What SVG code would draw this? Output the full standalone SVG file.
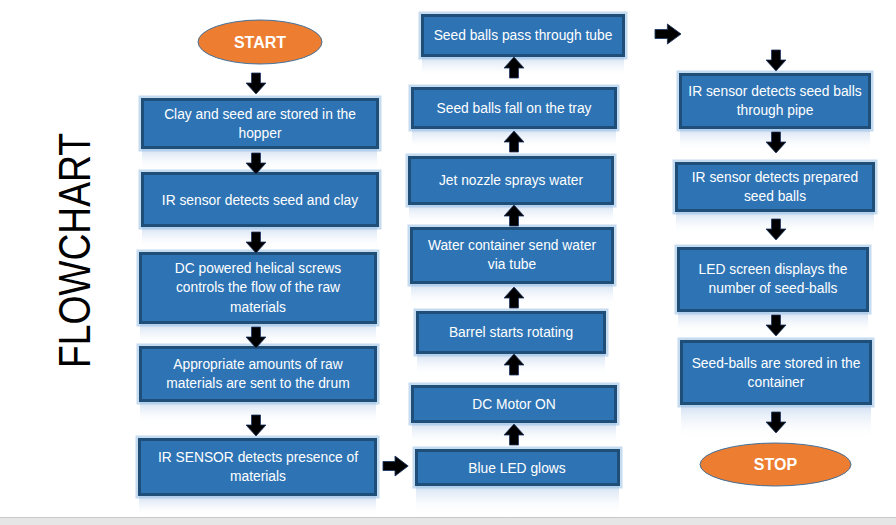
<svg xmlns="http://www.w3.org/2000/svg" xmlns:xlink="http://www.w3.org/1999/xlink" width="896" height="525" viewBox="0 0 896 525">
<style>
.box{fill:#2E74B5;stroke:#1F4E79;stroke-width:3}
.glow{fill:none;stroke:#9DC3E6;stroke-width:6;opacity:0.6}
.refl{fill:url(#rg)}
.t{font-family:"Liberation Sans",Arial,sans-serif;font-size:13.8px;fill:#ffffff;text-anchor:middle}
.term{fill:#ED7D31;stroke:#41719C;stroke-width:1}
.tt{font-family:"Liberation Sans",Arial,sans-serif;font-size:16px;font-weight:bold;fill:#ffffff;text-anchor:middle}
.arr{fill:#000000;stroke:#1F3864;stroke-width:0.8}
</style>
<defs>
<linearGradient id="rg" x1="0" y1="0" x2="0" y2="1">
<stop offset="0" stop-color="#BDD2EC" stop-opacity="0.7"/>
<stop offset="1" stop-color="#ffffff" stop-opacity="0"/>
</linearGradient>
<path id="ad" d="M-4.5,0 L4.5,0 L4.5,10 L10,10 L0,21 L-10,10 L-4.5,10 Z"/>
</defs>
<rect x="0" y="0" width="896" height="525" fill="#ffffff"/>
<rect x="0" y="517" width="896" height="8" fill="#E6E6E6"/>
<line x1="0" y1="517.5" x2="896" y2="517.5" stroke="#C8C8C8" stroke-width="1"/>

<g id="title"><text transform="translate(90,250.5) rotate(-90)" text-anchor="middle" font-family="Liberation Sans,Arial,sans-serif" font-size="44" textLength="235" lengthAdjust="spacingAndGlyphs" fill="#000000">FLOWCHART</text></g>

<g id="start"><ellipse class="term" cx="260" cy="42" rx="62" ry="22"/><text class="tt" x="260" y="48">START</text></g>

<g id="n1"><rect class="refl" x="142" y="149" width="235" height="22"/><rect class="glow" x="141.5" y="98.5" width="237" height="50"/><rect class="box" x="142.5" y="99.5" width="235" height="48"/><text class="t" x="260" y="119">Clay and seed are stored in the</text><text class="t" x="260" y="138">hopper</text></g>
<g id="n2"><rect class="refl" x="142" y="227" width="235" height="22"/><rect class="glow" x="141.5" y="172.5" width="237" height="54"/><rect class="box" x="142.5" y="173.5" width="235" height="52"/><text class="t" x="260" y="205">IR sensor detects seed and clay</text></g>
<g id="n3"><rect class="refl" x="140" y="324" width="236" height="22"/><rect class="glow" x="139.5" y="252.5" width="237" height="71"/><rect class="box" x="140.5" y="253.5" width="235" height="69"/><text class="t" x="258" y="273">DC powered helical screws</text><text class="t" x="258" y="292">controls the flow of the raw</text><text class="t" x="258" y="312">materials</text></g>
<g id="n4"><rect class="refl" x="140" y="402" width="236" height="22"/><rect class="glow" x="139.5" y="346.5" width="237" height="55"/><rect class="box" x="140.5" y="347.5" width="235" height="53"/><text class="t" x="258" y="369">Appropriate amounts of raw</text><text class="t" x="258" y="388">materials are sent to the drum</text></g>
<g id="n5"><rect class="refl" x="139" y="496" width="237" height="20"/><rect class="glow" x="138.5" y="438.5" width="238" height="57"/><rect class="box" x="139.5" y="439.5" width="236" height="55"/><text class="t" x="258" y="462">IR SENSOR detects presence of</text><text class="t" x="258" y="481">materials</text></g>

<g id="n6"><rect class="refl" x="422" y="57" width="202" height="20"/><rect class="glow" x="421.5" y="14.5" width="203" height="42"/><rect class="box" x="422.5" y="15.5" width="201" height="40"/><text class="t" x="523" y="40">Seed balls pass through tube</text></g>
<g id="n7"><rect class="refl" x="412" y="129" width="204" height="20"/><rect class="glow" x="411.5" y="87.5" width="205" height="41"/><rect class="box" x="412.5" y="88.5" width="203" height="39"/><text class="t" x="514" y="113">Seed balls fall on the tray</text></g>
<g id="n8"><rect class="refl" x="409" y="205" width="204" height="20"/><rect class="glow" x="408.5" y="156.5" width="205" height="48"/><rect class="box" x="409.5" y="157.5" width="203" height="46"/><text class="t" x="511" y="185">Jet nozzle sprays water</text></g>
<g id="n9"><rect class="refl" x="411" y="284" width="202" height="22"/><rect class="glow" x="410.5" y="227.5" width="203" height="56"/><rect class="box" x="411.5" y="228.5" width="201" height="54"/><text class="t" x="512" y="250">Water container send water</text><text class="t" x="512" y="269">via tube</text></g>
<g id="n10"><rect class="refl" x="417" y="354" width="188" height="22"/><rect class="glow" x="416.5" y="311.5" width="189" height="42"/><rect class="box" x="417.5" y="312.5" width="187" height="40"/><text class="t" x="511" y="337">Barrel starts rotating</text></g>
<g id="n11"><rect class="refl" x="412" y="423" width="204" height="22"/><rect class="glow" x="411.5" y="385.5" width="205" height="37"/><rect class="box" x="412.5" y="386.5" width="203" height="35"/><text class="t" x="514" y="409">DC Motor ON</text></g>
<g id="n12"><rect class="refl" x="416" y="486" width="203" height="28"/><rect class="glow" x="415.5" y="449.5" width="204" height="36"/><rect class="box" x="416.5" y="450.5" width="202" height="34"/><text class="t" x="517" y="473">Blue LED glows</text></g>

<g id="n13"><rect class="refl" x="680" y="129" width="190" height="22"/><rect class="glow" x="679.5" y="73.5" width="191" height="55"/><rect class="box" x="680.5" y="74.5" width="189" height="53"/><text class="t" x="775" y="96">IR sensor detects seed balls</text><text class="t" x="775" y="115">through pipe</text></g>
<g id="n14"><rect class="refl" x="676" y="212" width="198" height="22"/><rect class="glow" x="675.5" y="162.5" width="199" height="49"/><rect class="box" x="676.5" y="163.5" width="197" height="47"/><text class="t" x="775" y="182">IR sensor detects prepared</text><text class="t" x="775" y="201">seed balls</text></g>
<g id="n15"><rect class="refl" x="678" y="312" width="190" height="22"/><rect class="glow" x="677.5" y="247.5" width="191" height="64"/><rect class="box" x="678.5" y="248.5" width="189" height="62"/><text class="t" x="773" y="274">LED screen displays the</text><text class="t" x="773" y="293">number of seed-balls</text></g>
<g id="n16"><rect class="refl" x="681" y="405" width="190" height="34"/><rect class="glow" x="680.5" y="340.5" width="191" height="64"/><rect class="box" x="681.5" y="341.5" width="189" height="62"/><text class="t" x="776" y="368">Seed-balls are stored in the</text><text class="t" x="776" y="387">container</text></g>

<g id="stop"><ellipse class="term" cx="775.5" cy="464.5" rx="75.5" ry="21.5"/><text class="tt" x="775.5" y="470">STOP</text></g>

<g id="connectors">
<use xlink:href="#ad" class="arr" transform="translate(256,73)"/>
<use xlink:href="#ad" class="arr" transform="translate(256,153)"/>
<use xlink:href="#ad" class="arr" transform="translate(256,232)"/>
<use xlink:href="#ad" class="arr" transform="translate(256,327)"/>
<use xlink:href="#ad" class="arr" transform="translate(256,415)"/>
<use xlink:href="#ad" class="arr" transform="translate(383,466) rotate(-90) scale(1,1.2)"/>
<use xlink:href="#ad" class="arr" transform="translate(514,445) rotate(180)"/>
<use xlink:href="#ad" class="arr" transform="translate(514,375) rotate(180)"/>
<use xlink:href="#ad" class="arr" transform="translate(514,308) rotate(180)"/>
<use xlink:href="#ad" class="arr" transform="translate(514,226) rotate(180)"/>
<use xlink:href="#ad" class="arr" transform="translate(514,152) rotate(180)"/>
<use xlink:href="#ad" class="arr" transform="translate(514,78) rotate(180)"/>
<use xlink:href="#ad" class="arr" transform="translate(655,34) rotate(-90) scale(1,1.24)"/>
<use xlink:href="#ad" class="arr" transform="translate(776,50)"/>
<use xlink:href="#ad" class="arr" transform="translate(776,132)"/>
<use xlink:href="#ad" class="arr" transform="translate(776,219)"/>
<use xlink:href="#ad" class="arr" transform="translate(776,315)"/>
<use xlink:href="#ad" class="arr" transform="translate(776,412)"/>
</g>
</svg>
